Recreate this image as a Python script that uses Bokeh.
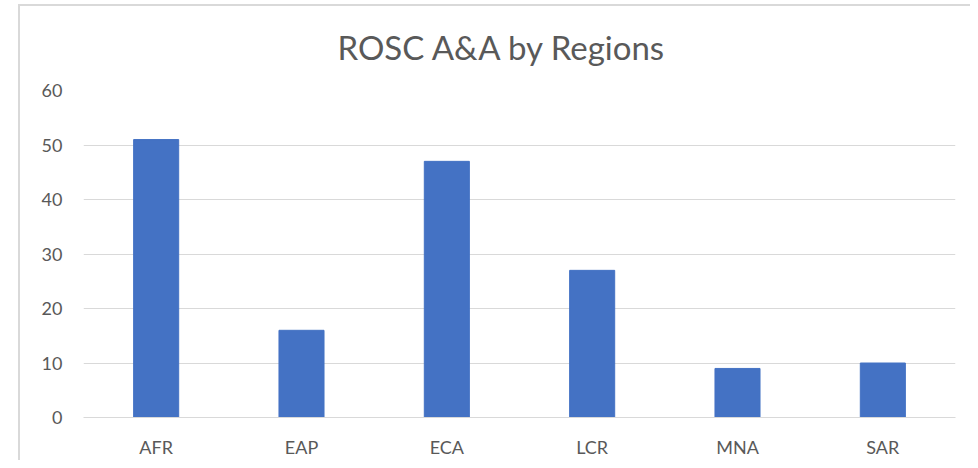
from bokeh.plotting import figure
from bokeh.models import FactorRange, Range1d, FixedTicker
from bokeh.embed import file_html
from bokeh.resources import INLINE

regions = ["AFR", "EAP", "ECA", "LCR", "MNA", "SAR"]
counts = [51, 16, 47, 27, 9, 10]
y_ticks = [0, 10, 20, 30, 40, 50, 60]

TEXT = "#595959"
FONT = "Lato"

p = figure(
    x_range=FactorRange(*regions, range_padding=0),
    y_range=Range1d(0, 60),
    width=970, height=460,
    output_backend="svg", toolbar_location=None,
    min_border_left=83, min_border_right=15, min_border_top=90, min_border_bottom=43,
)
p.vbar(x=regions, top=counts, width=0.31, color="#4472C4")

p.title.text = "ROSC A&A by Regions"
p.title.align = "left"
p.title.offset = 254
p.title.text_font = FONT
p.title.text_font_size = "33px"
p.title.text_font_style = "normal"
p.title.text_color = TEXT
p.title.standoff = 48

p.outline_line_color = None
p.background_fill_color = "white"
p.border_fill_color = None
p.styles = {
    "background": (
        "linear-gradient(#d9d9d9,#d9d9d9) 18px 4px / 2px 100% no-repeat, "
        "linear-gradient(#d9d9d9,#d9d9d9) 18px 4px / 100% 2px no-repeat, white"
    )
}

p.xgrid.grid_line_color = None
p.ygrid.grid_line_color = "#d9d9d9"
p.ygrid.grid_line_width = 1
p.yaxis.ticker = FixedTicker(ticks=y_ticks)

p.yaxis.axis_line_color = None
p.yaxis.major_tick_line_color = None
p.yaxis.minor_tick_line_color = None
p.yaxis.major_label_standoff = 15

p.xaxis.axis_line_color = "#d9d9d9"
p.xaxis.major_tick_line_color = None
p.xaxis.minor_tick_line_color = None
p.xaxis.major_label_standoff = 12

for ax in (p.xaxis[0], p.yaxis[0]):
    ax.major_label_text_font = FONT
    ax.major_label_text_font_size = "18px"
    ax.major_label_text_color = TEXT

open("out.html", "w").write(file_html(p, INLINE))
